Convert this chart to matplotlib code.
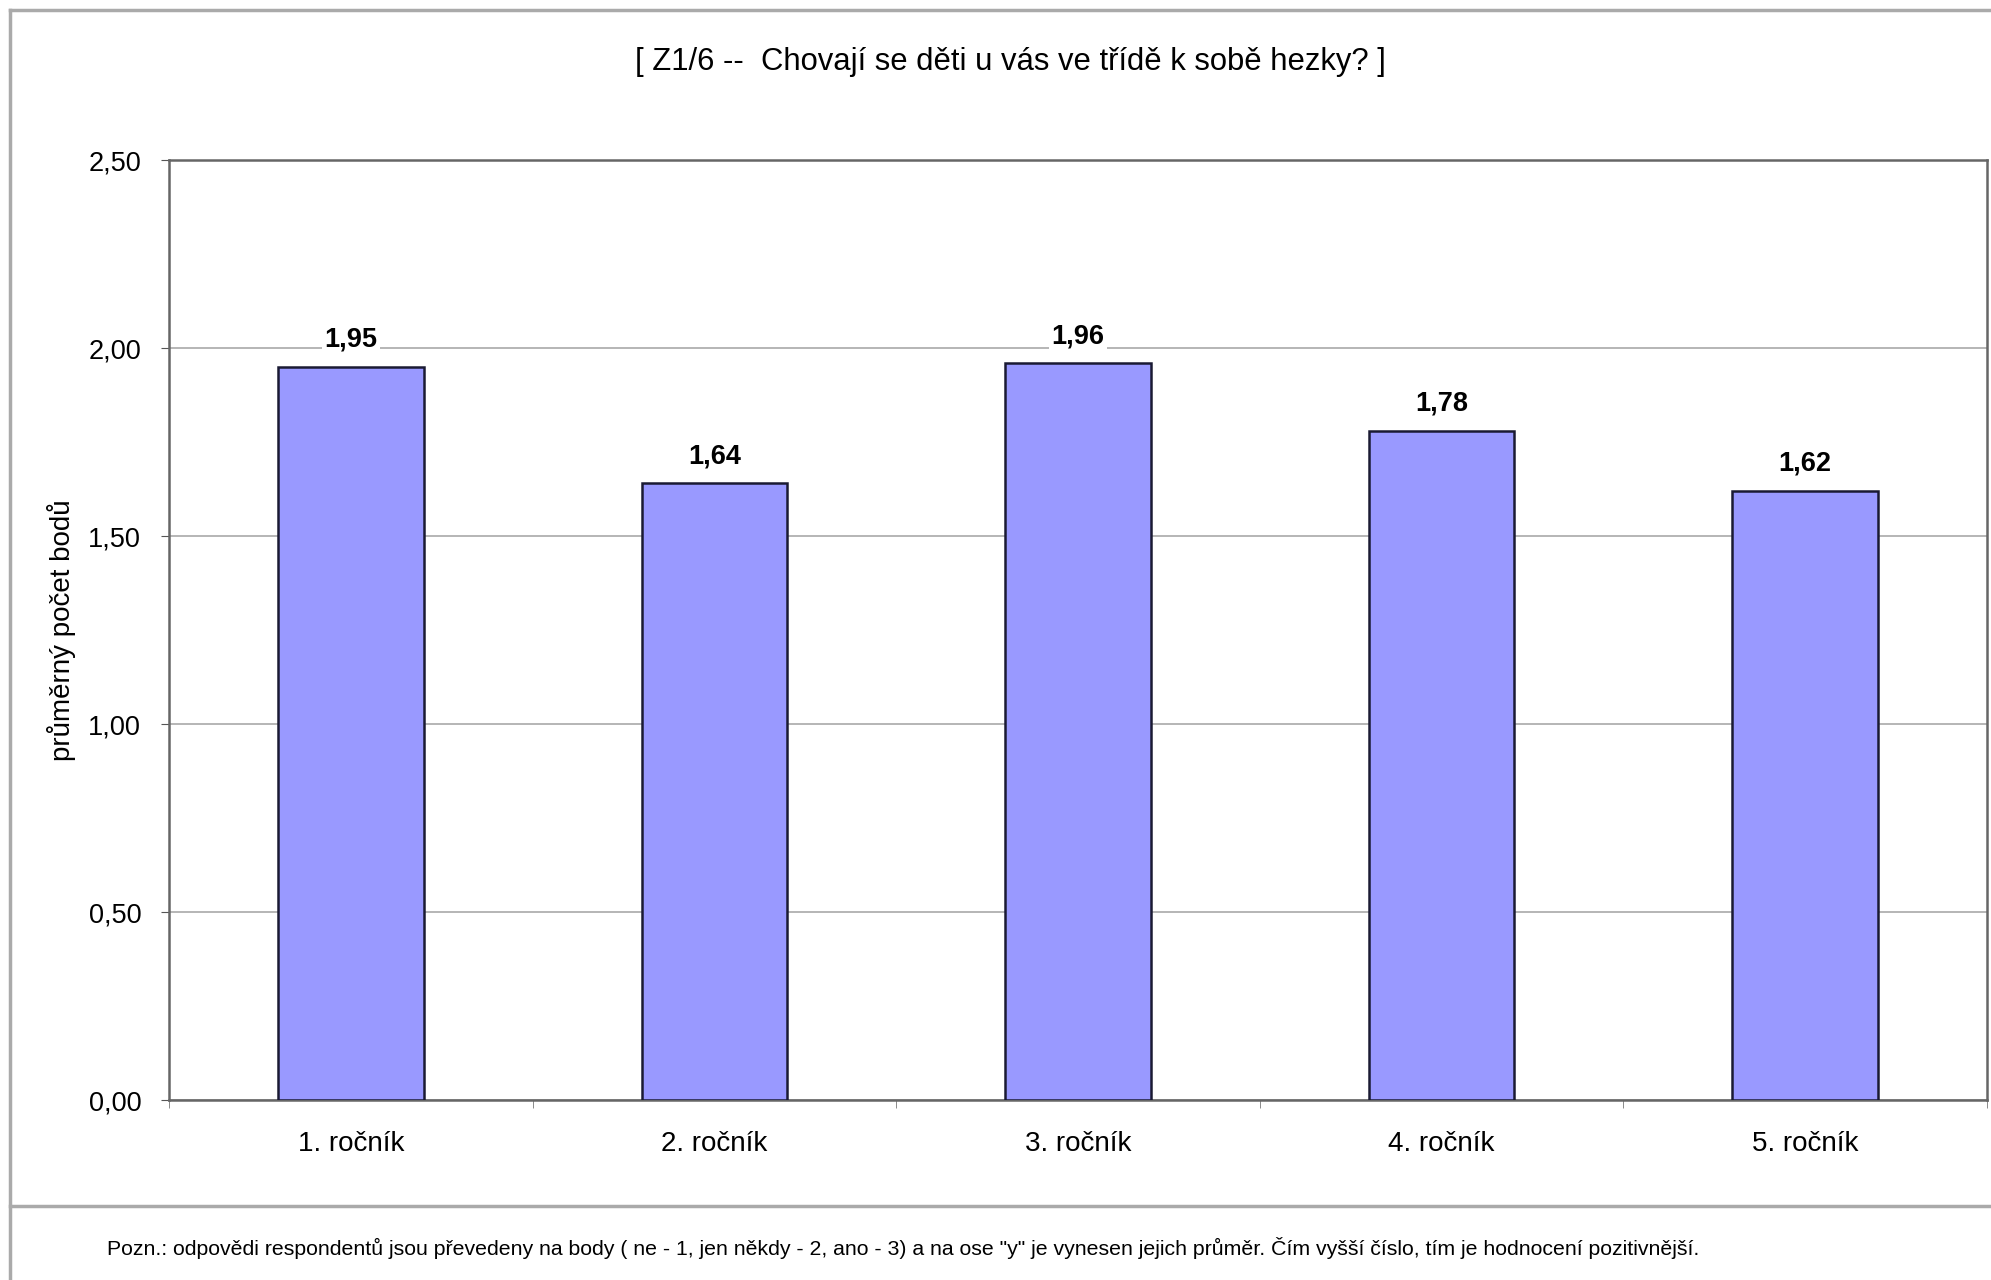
import matplotlib
matplotlib.use("Agg")
from matplotlib import pyplot as plt
from matplotlib.lines import Line2D
import numpy as np

categories = ["1. ročník", "2. ročník", "3. ročník", "4. ročník", "5. ročník"]
values = [1.95, 1.64, 1.96, 1.78, 1.62]
value_labels = ["1,95", "1,64", "1,96", "1,78", "1,62"]
yticks = [0.0, 0.5, 1.0, 1.5, 2.0, 2.5]
ytick_labels = ["0,00", "0,50", "1,00", "1,50", "2,00", "2,50"]

title = "[ Z1/6 --  Chovají se děti u vás ve třídě k sobě hezky? ]"
ylabel = "průměrný počet bodů"
note = ("Pozn.: odpovědi respondentů jsou převedeny na body ( ne - 1, jen někdy - 2, ano - 3) "
        "a na ose \"y\" je vynesen jejich průměr. Čím vyšší číslo, tím je hodnocení pozitivnější.")

plt.rcParams['font.family'] = ['Liberation Sans', 'DejaVu Sans']

W, H = 1991, 1280
fig = plt.figure(figsize=(W / 100, H / 100), dpi=100)
fig.patch.set_facecolor('white')

ax = fig.add_axes([169 / W, 1 - 1100 / H, (1987 - 169) / W, (1100 - 160) / H])
ind = np.arange(len(categories))
bars = ax.bar(ind, values, 0.4, color='#9999ff', edgecolor='#1a1a33', linewidth=1.8, zorder=3)

ax.set_xlim(-0.5, len(categories) - 0.5)
ax.set_ylim(0, 2.5)
ax.set_yticks(yticks)
ax.set_yticklabels(ytick_labels, fontsize=19.5)
ax.set_xticks(ind)
ax.set_xticklabels(categories, fontsize=20)
ax.set_xticks(np.arange(len(categories) + 1) - 0.5, minor=True)
ax.tick_params(axis='x', which='major', length=0, pad=22)
ax.tick_params(axis='x', which='minor', length=6, color='#777777', direction='out')
ax.tick_params(axis='y', length=6, color='#555555', pad=14, direction='out')
ax.yaxis.grid(True, color='#b0b0b0', linewidth=1.3, zorder=0)
ax.set_axisbelow(True)
for s in ax.spines.values():
    s.set_color('#666666')
    s.set_linewidth(1.8)
ax.set_ylabel(ylabel, fontsize=20, labelpad=9)

for b, lab in zip(bars, value_labels):
    ax.annotate(lab, (b.get_x() + b.get_width() / 2, b.get_height()),
                xytext=(0, 10), textcoords='offset points', ha='center', va='bottom',
                fontsize=19.5, fontweight='bold', zorder=4,
                bbox=dict(facecolor='white', edgecolor='none', pad=2))

fig.text(1010 / W, 1 - 62 / H, title, ha='center', va='center', fontsize=22.3)
fig.text(107 / W, 1 - 1248 / H, note, ha='left', va='center', fontsize=15.3)

# outer frame and separator
frame = dict(color='#aaaaaa', linewidth=2.5, transform=fig.transFigure)
fig.add_artist(Line2D([10 / W, 1], [1 - 10 / H, 1 - 10 / H], **frame))
fig.add_artist(Line2D([10 / W, 10 / W], [0, 1 - 10 / H], **frame))
fig.add_artist(Line2D([10 / W, 1], [1 - 1206 / H, 1 - 1206 / H], **frame))

fig.savefig("out.png", dpi=100)
